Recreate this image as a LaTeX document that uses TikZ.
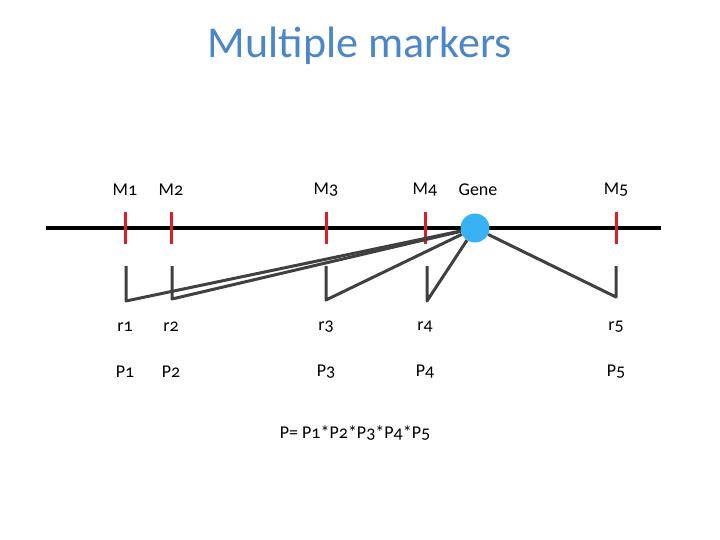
\documentclass[tikz,border=0pt]{standalone}
\usepackage{fontspec}
\setmainfont[Numbers=OldStyle]{Carlito}
\usetikzlibrary{arrows.meta,positioning}
\definecolor{titleblue}{RGB}{74,134,200}
\definecolor{markred}{RGB}{224,28,36}
\definecolor{geneblue}{RGB}{56,178,242}
\definecolor{linkgray}{RGB}{64,64,64}

\begin{document}
\begin{tikzpicture}[x=1pt, y=-1pt,
  lab/.style={font=\fontsize{18}{22}\selectfont, inner sep=0pt},
  marker/.style={fill=markred, minimum width=3pt, minimum height=32pt, inner sep=0pt},
  link/.style={linkgray, line width=3pt, line join=round}]
  \useasboundingbox (0,0) rectangle (720,540);
  \node[text=titleblue, font=\fontsize{44}{52}\selectfont] (title) at (360,46) {Multiple markers};

  % chromosome
  \coordinate (left) at (46,228);
  \coordinate (right) at (661,228);
  \draw[line width=4pt] (left) -- (right);

  % markers and their rows
  \foreach \i/\x in {1/125,2/171,3/326,4/425,5/616} {
    \node[marker] (t\i) at (\x,228) {};
    \node[lab] (m\i) at (\x,190) {M\i};
    \node[lab] (r\i) at (\x,327) {r\i};
    \node[lab] (p\i) at (\x,372) {P\i};
  }
  \node[lab] (genelab) at (478,190) {Gene};
  \node[circle, fill=geneblue, minimum size=29pt, inner sep=0pt] (gene) at (475,228) {};

  % links to the gene
  \foreach \i/\x/\y in {1/126/301,2/172/299,3/326/300,4/427/301,5/616/297} {
    \coordinate (a\i) at (\x,266);
    \coordinate (b\i) at (\x,\y);
    \draw[link] (a\i) -- (b\i) -- (gene);
  }

  \node[lab] (prod) at (355,433) {P= P1*P2*P3*P4*P5};
\end{tikzpicture}
\end{document}
